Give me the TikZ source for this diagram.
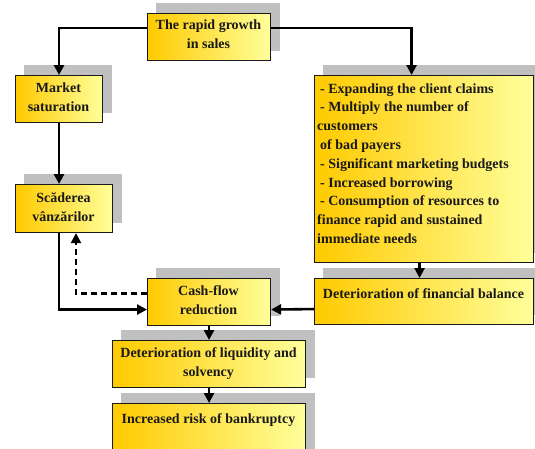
\documentclass[tikz,border=0pt]{standalone}
\usepackage{fontspec}
\setmainfont{Liberation Serif}
\usetikzlibrary{arrows.meta}
\definecolor{boxleft}{RGB}{255,202,0}
\definecolor{boxright}{RGB}{255,255,155}
\definecolor{shadowgray}{RGB}{192,192,192}
\definecolor{ink}{RGB}{25,25,25}
\pgfdeclarelayer{background}
\pgfsetlayers{background,main}
\begin{document}
\begin{tikzpicture}[x=1pt,y=-1pt,
  box/.style={draw=ink, line width=1.1pt, left color=boxleft, right color=boxright,
    anchor=north west, inner sep=0pt},
  txt/.style={font=\fontsize{14}{19}\selectfont\bfseries, text=ink, inner sep=0pt,
    align=center, anchor=north, execute at begin node=\strut},
  arr/.style={draw=black, line width=2.6pt, -{Triangle[length=10pt,width=10pt]}},
  shade/.style={fill=shadowgray}]
\useasboundingbox (0,0) rectangle (535,448);
\clip (0,0) rectangle (535,448);

% boxes
\node[box, minimum width=123pt, minimum height=47pt] (growth) at (147,13) {};
\node[box, minimum width=87pt,  minimum height=47pt] (sat)    at (15,75) {};
\node[box, minimum width=97pt,  minimum height=48pt] (drop)   at (15,184) {};
\node[box, minimum width=219pt, minimum height=187pt] (causes) at (314,75) {};
\node[box, minimum width=219pt, minimum height=46pt] (balance) at (314,278) {};
\node[box, minimum width=123pt, minimum height=47pt] (cash)   at (147,278) {};
\node[box, minimum width=193pt, minimum height=47pt] (liq)    at (112,340) {};
\node[box, minimum width=193pt, minimum height=70pt] (risk)   at (112,403) {};

% drop shadows, offset up and to the right
\begin{pgfonlayer}{background}
  \foreach \b in {growth,sat,drop,causes,balance,cash,liq,risk}
    \fill[shade] ([shift={(9,-10)}]\b.south west) rectangle ([shift={(9,-10)}]\b.north east);
\end{pgfonlayer}

% labels
\node[txt] (tgrowth) at (208.5,19.2) {The rapid growth\\in sales};
\node[txt] (tsat) at (58.5,82.2) {Market\\saturation};
\node[txt] (tdrop) at (63.5,192.2) {Scăderea\\vânzărilor};
\node[txt, align=left, anchor=north west, font=\fontsize{14}{18.8}\selectfont\bfseries] (tcauses) at (317,83.2)
  {\hspace{3pt}- Expanding the client claims\\
   \hspace{3pt}- Multiply the number of\\
   customers\\
   \hspace{3pt}of bad payers\\
   \hspace{3pt}- Significant marketing budgets\\
   \hspace{3pt}- Increased borrowing\\
   \hspace{3pt}- Consumption of resources to\\
   finance rapid and sustained\\
   immediate needs};
\node[txt] (tbalance) at (423.5,285.2) {Deterioration of financial balance};
\node[txt] (tcash) at (208.5,285.2) {Cash-flow\\reduction};
\node[txt] (tliq) at (208.5,347.2) {Deterioration of liquidity and\\solvency};
\node[txt] (trisk) at (208.5,410.2) {Increased risk of bankruptcy};

% connectors
\draw[arr] ([yshift=-15pt]growth.north west) -| (sat.north);
\draw[arr] ([yshift=-15pt]growth.north east) -| ([xshift=-12.5pt]causes.north);
\draw[arr] (sat.south) -- (sat.south |- drop.north);
\draw[arr] (sat.south |- drop.south) |- ([yshift=-7.5pt]cash.west);
\draw[arr, line width=2.2pt, dash pattern=on 6pt off 4pt] ([yshift=8.5pt]cash.west) -| ([xshift=61pt]drop.south west);
\draw[arr] ([xshift=-4.5pt]causes.south) -- ([xshift=-4.5pt]balance.north);
\draw[arr] ([yshift=-7.5pt]balance.west) -- ([yshift=-7.5pt]cash.east);
\draw[arr] (cash.south) -- (liq.north);
\draw[arr] (liq.south) -- (risk.north);
\end{tikzpicture}
\end{document}
